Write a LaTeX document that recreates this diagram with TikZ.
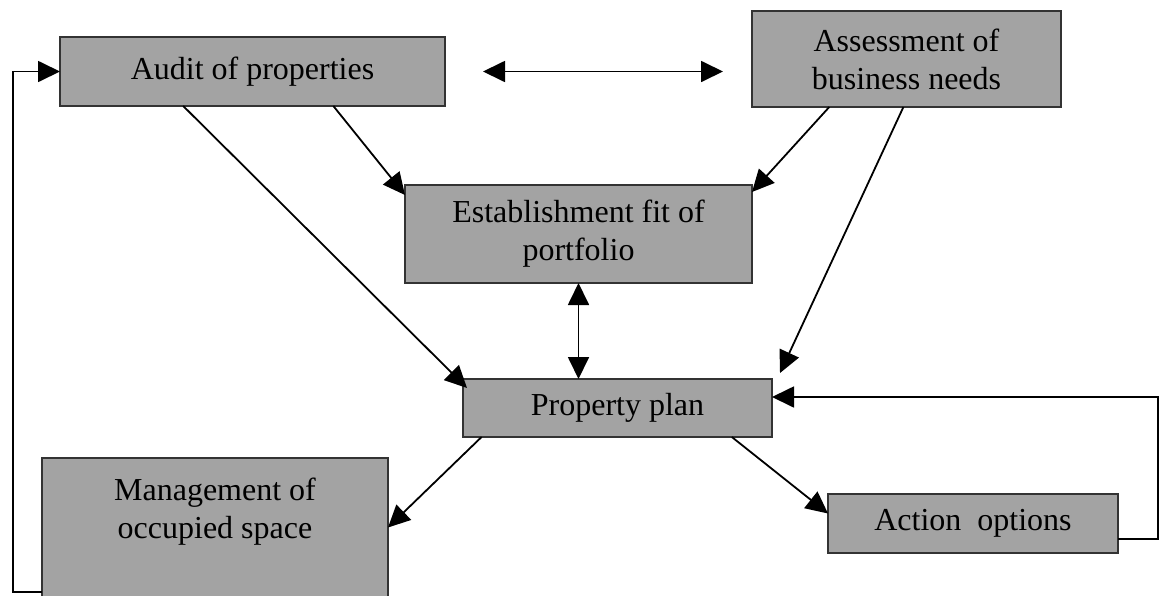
\documentclass[tikz,border=0pt]{standalone}
\usepackage{fontspec}
\setmainfont{Liberation Serif}
\usetikzlibrary{arrows.meta,calc}

\begin{document}
\begin{tikzpicture}[x=0.5pt,y=-0.5pt,
    stage/.style={draw=black!80,line width=1pt,fill=black!36,inner sep=0pt,outer sep=0pt,
        align=center,font=\fontsize{16}{19}\selectfont},
    link/.style={line width=0.9pt,-{Triangle[length=11pt,width=10.5pt]}},
    twoway/.style={line width=0.9pt,{Triangle[length=11pt,width=10.5pt]}-{Triangle[length=11pt,width=10.5pt]}}]
    \useasboundingbox (0,0) rectangle (1161,595);

    % Draw the boxes
    \node[stage,minimum width=192.5pt,minimum height=34.5pt] (audit) at (252.5,71.5) {Audit of properties};
    \node[stage,minimum width=154.5pt,minimum height=48pt] (assess) at (906.5,59) {Assessment of\\business needs};
    \node[stage,minimum width=173.5pt,minimum height=49pt] (estab) at (578.5,234) {Establishment fit of\\portfolio};
    \node[stage,minimum width=154.5pt,minimum height=29pt] (pplan) at (617.5,408) {Property plan};
    \node[stage,minimum width=173pt,minimum height=69.5pt] (mgmt) at (215,527.5) {Management of\\occupied space\\~};
    \node[stage,minimum width=145pt,minimum height=29.5pt] (action) at (973,523.5) {Action~~options};

    % Draw the links
    \draw[twoway] ($(audit.east)+(38,0)$) -- ($(assess.west |- audit.east)+(-29,0)$);
    \draw[link] ($(audit.south west)!.32!(audit.south east)$) -- ($(pplan.north west)+(4,9)$);
    \draw[link] ($(audit.south west)!.71!(audit.south east)$) -- ($(estab.north west)+(0,10)$);
    \draw[link] ($(assess.south west)!.25!(assess.south east)$) -- ($(estab.north east)+(0,7)$);
    \draw[link] ($(assess.south west)!.49!(assess.south east)$) -- ($(pplan.north east)+(8,-6)$);
    \draw[twoway] (estab.south) -- (estab.south |- pplan.north);
    \draw[link] ($(pplan.south west)!.06!(pplan.south east)$) -- (mgmt.east);
    \draw[link] ($(pplan.south west)!.87!(pplan.south east)$) -- ($(action.west)+(0,-10)$);

    % Draw the feedback loops
    \draw[link] ($(mgmt.south west)+(0,-5)$) -- ++(-29,0) |- (audit.west);
    \draw[link] ($(action.south east)+(0,-14)$) -- ++(40,0) |- ($(pplan.east)+(0,-11)$);
\end{tikzpicture}
\end{document}
